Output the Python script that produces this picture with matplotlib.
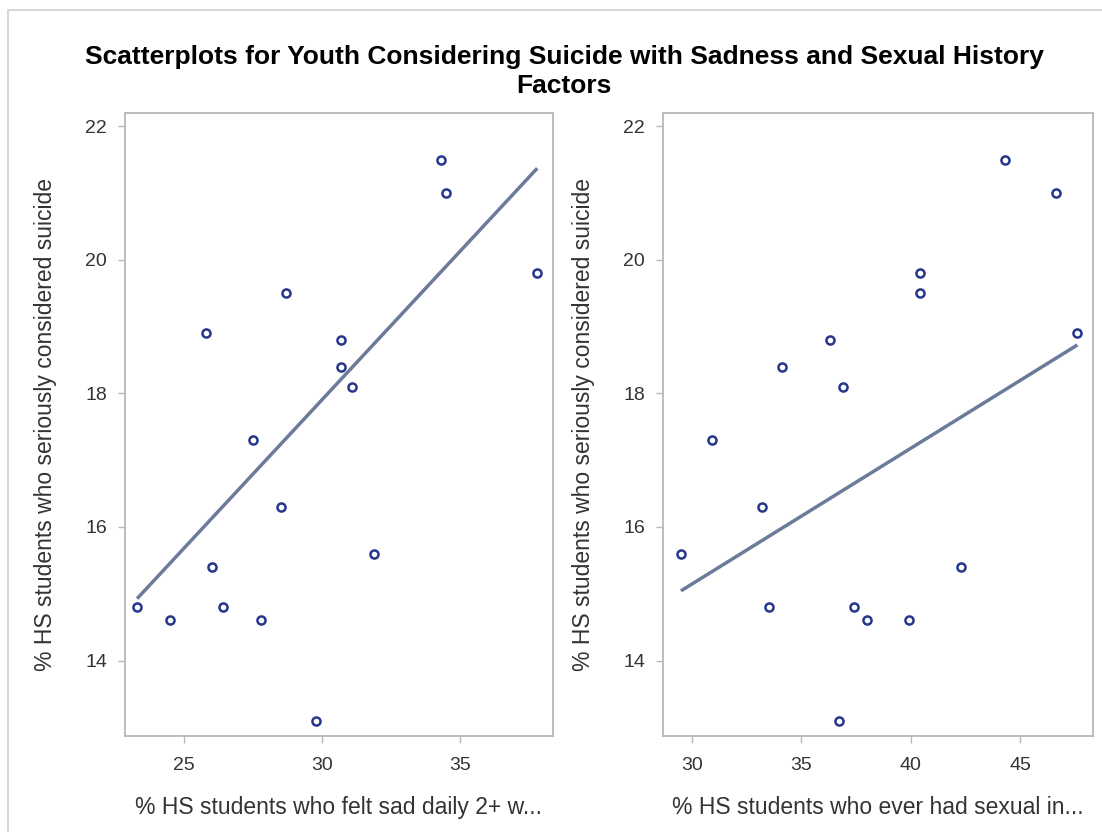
import matplotlib
matplotlib.use('Agg')
import matplotlib.pyplot as plt
import numpy as np
from matplotlib.patches import Rectangle

# % who seriously considered suicide (shared y for both panels)
considered = [14.8, 14.6, 18.9, 15.4, 14.8, 17.3, 14.6, 16.3, 19.5, 13.1,
              18.8, 18.4, 18.1, 15.6, 21.5, 21.0, 19.8]
# % who felt sad daily 2+ weeks
felt_sad = [23.3, 24.5, 25.8, 26.0, 26.4, 27.5, 27.8, 28.5, 28.7, 29.8,
            30.7, 30.7, 31.1, 31.9, 34.3, 34.5, 37.8]
# % who ever had sexual intercourse
sexual = [33.5, 38.0, 47.6, 42.3, 37.4, 30.9, 39.9, 33.2, 40.4, 36.7,
          36.3, 34.1, 36.9, 29.5, 44.3, 46.6, 40.4]

# regression fits as shown on the chart (slope, intercept)
fit_sad = (0.4445, 4.57)
fit_sex = (0.2035, 9.04)

xlabels = ['% HS students who felt sad daily 2+ w...',
           '% HS students who ever had sexual in...']
ylabel = '% HS students who seriously considered suicide'
title = 'Scatterplots for Youth Considering Suicide with Sadness and Sexual History\nFactors'

plt.rcParams['font.family'] = ['Liberation Sans', 'DejaVu Sans']

MARKER = '#26368c'
LINE = '#6c7b9a'
FRAME = '#b8b8b8'
TEXT = '#333333'

fig = plt.figure(figsize=(11.02, 8.32), dpi=100)
fig.patches.append(Rectangle((0.007, -0.1), 1.1, 1.088, transform=fig.transFigure,
                             fill=False, edgecolor='#d0d0d0', lw=1.2))

positions = [[0.1134, 0.1154, 0.3884, 0.7488], [0.6016, 0.1154, 0.3902, 0.7488]]
xdata = [felt_sad, sexual]
fits = [fit_sad, fit_sex]
xlims = [(22.86, 38.37), (28.68, 48.31)]
xticks = [[25, 30, 35], [30, 35, 40, 45]]

for pos, xs, fit, xl, xt, lab in zip(positions, xdata, fits, xlims, xticks, xlabels):
    ax = fig.add_axes(pos)
    xs = np.array(xs)
    ys = np.array(considered)
    ax.scatter(xs, ys, s=34, facecolors='white', edgecolors=MARKER, linewidths=1.8, zorder=3)
    m, b = fit
    xx = np.array([xs.min(), xs.max()])
    ax.plot(xx, m * xx + b, color=LINE, lw=2.5, zorder=2, solid_capstyle='butt')
    ax.set_xlim(*xl)
    ax.set_ylim(12.87, 22.2)
    ax.set_xticks(xt)
    ax.set_yticks([14, 16, 18, 20, 22])
    for s in ax.spines.values():
        s.set_color(FRAME)
        s.set_linewidth(1.3)
    ax.tick_params(colors=FRAME, labelcolor=TEXT, labelsize=14, length=5, width=1.0, pad=8)
    ax.tick_params(axis='x', pad=10)
    ax.set_xlabel(lab, fontsize=16.5, color=TEXT, labelpad=16)
    ax.set_ylabel(ylabel, fontsize=16.5, color=TEXT, labelpad=20)

fig.text(0.5118, 0.914, title, ha='center', va='center', fontsize=19,
         fontweight='bold', color='black', linespacing=1.3)

fig.savefig('out.png', dpi=100)
